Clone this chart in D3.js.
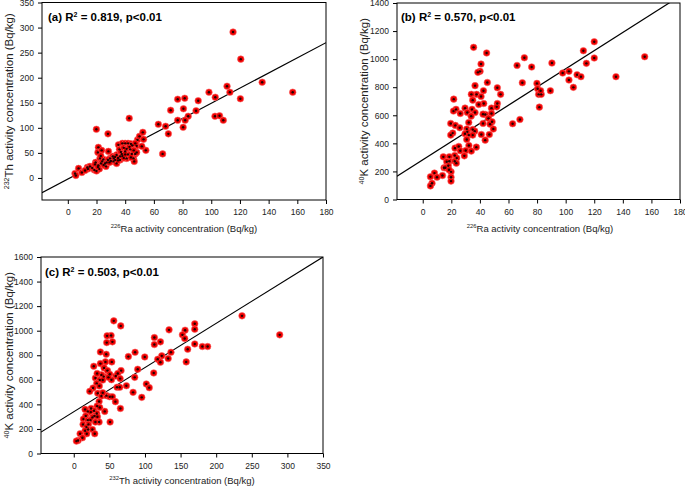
<!DOCTYPE html>
<html><head><meta charset="utf-8">
<script src="https://cdn.jsdelivr.net/npm/d3@7"></script>
<style>body{margin:0;background:#fff}svg{display:block}text{font-family:"Liberation Sans",Arial,sans-serif}</style>
</head><body><div id="chart"></div>
<script>
// Panel (a): 226Ra (x) vs 232Th (y)
const raA = [115.2,120.6,135.5,156.8,111,113,98.4,102.8,120.3,76.6,81.5,90.9,71.7,80.6,89.4,83.9,102.6,105.8,108.4,76.6,81.8,80.4,63.1,68.2,70.1,42.8,19.9,28,66.1,54.4,
 5,5.6,7.5,9.8,13.6,15.4,18.5,19.4,21.3,21,23.6,22.4,21.3,23.1,24.8,26,26.6,28.3,29.4,31.3,33,34,35.3,36,36.4,38,40,42,44,37.6,40,41,43.5,44.6,45.8,46.3,47,48,48.6,50,52.3,52.8,51.6,48,31.8,34,36.4,17,19,20,22,24,25,27,28,30,32,33,35,37,38,39,41,42,43,45,46,14,12,21,23,29,35,39,44,47,40];
const thA = [291,237,191,171,183,171,171,161,158,157,159,154,135,138,134,123,123,124,115,115,115,101,107,103,88,119,97,88,48,55,
 9,5,19,11,21,23,16,31,61,51,55,39,25,29,37,29,23,53,39,43,36,46,66,57,43,69,69,69,68,48,53,39,57,48,39,33,48,64,76,83,91,77,63,51,33,29,36,20,27,14,18,33,26,31,36,34,39,42,40,52,44,60,58,47,62,65,55,18,15,22,44,31,35,40,41,69,47];

// Panel (b): 226Ra (x) vs 40K (y)
const raB = [35.6,44.7,40.8,40.1,38.6,45.2,36.6,52.2,37.7,34,54.5,42.5,40.8,35,21.7,42.7,52.2,39.2,48.1,51.8,29.6,23.3,34.5,21.5,26.3,36.6,31.2,43.8,42.2,33.9,48.1,46,48.5,47.1,32.2,19.6,42.2,22.8,25.9,30.8,49.4,35,36.4,31.2,29.6,21,19.6,41,46.6,32.3,35,30.8,43.7,32.3,22.6,37.5,25.2,26.3,30.1,34,29.1,22.4,14.4,18.6,23.8,18.6,22.4,23.5,16.8,17.9,14.9,15.9,19.8,18.4,8.2,13.8,10,5.4,19.8,19.8,6.5,5.4,
 62.9,68,69.7,66,71.1,76.2,79.9,80.4,81.1,82.9,81.6,82.5,90.4,89.3,97.9,102.3,102.3,105.4,108,110.7,112.4,114.5,120,120,135.2,155.3];
const kB = [1084,1044,965,913,906,834,811,796,749,749,749,775,734,708,715,684,684,677,651,660,651,642,642,630,613,620,620,606,608,594,613,578,554,537,549,542,542,528,511,502,502,499,487,482,468,473,459,463,463,459,459,428,423,385,366,373,378,347,349,345,311,314,304,304,295,273,273,259,269,240,226,226,197,212,188,171,159,162,159,131,116,97,
 540,570,832,955,1010,944,827,789,749,749,658,775,972,775,901,913,851,799,889,875,1060,970,1124,1008,875,1017];

// Panel (c): 232Th (x) vs 40K (y)
const thC = [236.3,289.2,169.9,169.9,133.8,156.3,152.6,155.8,113.2,121.7,113.2,169.9,160,180.6,188,136.5,123.6,117.9,121.7,132.6,157.9,112.3,99.7,101.9,106,89.8,85.6,86.1,76.7,73.9,83.3,95.5,
 56.2,66,52.4,54.3,46.8,46.3,37.4,45.6,53.4,44.5,37.4,28.1,42.6,47.3,66.4,50.5,42.1,59,61.8,65.1,52.9,48.7,30.4,38.8,32.8,36.5,40.7,32.3,35.9,27.1,22.5,60.8,64.6,33.7,38.8,45.9,50.5,54.3,40.7,35.6,58.5,65.5,43.5,32.8,36.5,24.3,19.7,15.9,28.5,32.3,23.9,29,16.8,26.2,33.2,13.6,19.7,23.4,35.6,30.4,51,13.1,20.6,17.8,20.1,26.2,15.9,8.9,18.3,29.5,12.2,6.1,3.7];
const kC = [1121,966,1056,1012,1007,1004,966,936,944,909,887,892,849,871,871,824,795,767,743,773,746,656,786,566,536,686,620,824,789,552,498,457,
 1080,1039,961,909,958,903,827,808,746,746,732,710,697,675,675,645,626,631,652,610,601,620,615,640,652,598,598,571,550,533,506,539,539,490,468,471,462,462,495,424,422,367,343,386,375,367,343,359,348,326,337,305,305,294,299,280,272,272,256,256,256,237,237,215,196,196,185,161,161,161,128,106,101];

const xTicksRa = [0,20,40,60,80,100,120,140,160,180];
const yTicksTh = [0,50,100,150,200,250,300,350];
const yTicksK14 = [0,200,400,600,800,1000,1200,1400];
const xTicksTh = [0,50,100,150,200,250,300,350];
const yTicksK16 = [0,200,400,600,800,1000,1200,1400,1600];

const svg = d3.select("#chart").append("svg").attr("width",685).attr("height",487);

const panels = [
 {id:"a", xs:raA, ys:thA, box:[42,326,2.5,200], xd:[-18,180], yd:[-44,350], xt:xTicksRa, yt:yTicksTh,
  fit:[1.512,-2.3], title:["(a) R","2"," = 0.819, p<0.01"], tpos:[48,21],
  xl:["226","Ra activity concentration (Bq/kg)"], yl:["232","Th activity concentration (Bq/kg)"], xlpos:[184,232], ylx:13},
 {id:"b", xs:raB, ys:kB, box:[397,680,3,199.5], xd:[-18,180], yd:[0,1400], xt:xTicksRa, yt:yTicksK14,
  fit:[6.48,283], title:["(b) R","2"," = 0.570, p<0.01"], tpos:[401,21],
  xl:["226","Ra activity concentration (Bq/kg)"], yl:["40","K activity concentration (Bq/kg)"], xlpos:[540,232], ylx:368},
 {id:"c", xs:thC, ys:kC, box:[41,323,257,453.5], xd:[-46,350], yd:[0,1600], xt:xTicksTh, yt:yTicksK16,
  fit:[3.6,340], title:["(c) R","2"," = 0.503, p<0.01"], tpos:[45,276],
  xl:["232","Th activity concentration (Bq/kg)"], yl:["40","K activity concentration (Bq/kg)"], xlpos:[182,484], ylx:13}
];

function supText(sel, parts, size){
  sel.append("tspan").attr("font-size",size*0.62).attr("dy",-size*0.38).text(parts[0]);
  sel.append("tspan").attr("dy",size*0.38).text(parts[1]);
}

panels.forEach(p=>{
  const [l,r,t,b] = p.box;
  const x = d3.scaleLinear().domain(p.xd).range([l,r]);
  const y = d3.scaleLinear().domain(p.yd).range([b,t]);
  const g = svg.append("g");
  g.append("clipPath").attr("id","clip"+p.id).append("rect").attr("x",l).attr("y",t).attr("width",r-l).attr("height",b-t);

  const xa = g.append("g").attr("transform",`translate(0,${b})`)
    .call(d3.axisBottom(x).tickValues(p.xt).tickSize(4).tickPadding(5).tickFormat(d3.format("d")));
  const ya = g.append("g").attr("transform",`translate(${l},0)`)
    .call(d3.axisLeft(y).tickValues(p.yt).tickSize(4).tickPadding(4).tickFormat(d3.format("d")));
  [xa,ya].forEach(a=>{
    a.select(".domain").remove();
    a.selectAll("line").attr("stroke","#000");
    a.selectAll("text").attr("fill","#222").attr("font-size",8.5).attr("font-family",'"Liberation Sans",Arial,sans-serif');
  });

  const [m,c] = p.fit;
  const line = d3.line().x(d=>x(d)).y(d=>y(m*d+c));
  g.append("path").attr("d",line(p.xd)).attr("clip-path",`url(#clip${p.id})`)
    .attr("fill","none").attr("stroke","#000").attr("stroke-width",1.2);

  const pts = p.xs.map((v,i)=>[v,p.ys[i]]);
  const pg = g.append("g");
  pg.selectAll("circle.o").data(pts).join("circle").attr("class","o")
    .attr("cx",d=>x(d[0])).attr("cy",d=>y(d[1])).attr("r",3.3).attr("fill","#ee0000").attr("stroke","#ff6666").attr("stroke-width",0.6);
  pg.selectAll("circle.i").data(pts).join("circle").attr("class","i")
    .attr("cx",d=>x(d[0])).attr("cy",d=>y(d[1])).attr("r",1.2).attr("fill","#200");

  g.append("rect").attr("x",l).attr("y",t).attr("width",r-l).attr("height",b-t)
    .attr("fill","none").attr("stroke","#000").attr("stroke-width",1);

  const tt = g.append("text").attr("x",p.tpos[0]).attr("y",p.tpos[1]).attr("font-size",11.5).attr("font-weight","bold").attr("fill","#000");
  tt.append("tspan").text(p.title[0]);
  tt.append("tspan").attr("font-size",7).attr("dy",-4.5).text(p.title[1]);
  tt.append("tspan").attr("dy",4.5).text(p.title[2]);

  const xlt = g.append("text").attr("x",p.xlpos[0]).attr("y",p.xlpos[1]).attr("text-anchor","middle").attr("font-size",9.5).attr("fill","#222");
  supText(xlt,p.xl,9.5);
  const yc = (t+b)/2;
  const ylt = g.append("text").attr("transform",`translate(${p.ylx},${yc}) rotate(-90)`).attr("text-anchor","middle").attr("font-size",11.5).attr("fill","#222");
  supText(ylt,p.yl,11.5);
});
</script></body></html>
